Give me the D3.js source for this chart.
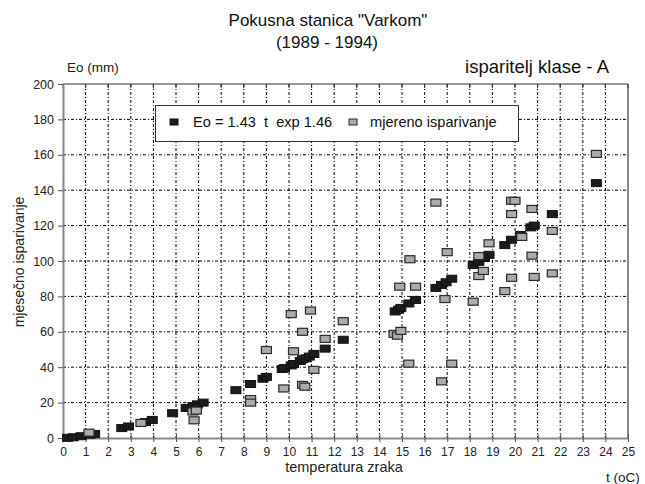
<!DOCTYPE html>
<html><head><meta charset="utf-8">
<script src="https://cdn.jsdelivr.net/npm/d3@7/dist/d3.min.js"></script>
<style>body{margin:0;background:#fff}svg{display:block;font-family:"Liberation Sans",Arial,sans-serif}</style>
</head><body><svg id="c" width="645" height="484"></svg>
<script>
const titleLines = ['Pokusna stanica "Varkom"', '(1989 - 1994)'];
const xTicks = d3.range(0, 26, 1);
const yTicks = [0, 20, 40, 60, 80, 100, 120, 140, 160, 180, 200];
const legendLabels = ['Eo = 1.43  t  exp 1.46', 'mjereno isparivanje'];
// computed Eo = 1.43 t^1.46 (black)
const calcT = [0.2,0.45,0.8,1.2,1.4,2.6,2.9,3.65,3.95,4.85,5.45,5.75,5.95,6.2,7.65,8.3,8.85,9.0,9.7,9.8,10.1,10.2,10.5,10.6,10.75,10.9,11.1,11.6,12.4,14.7,14.85,14.95,15.3,15.6,16.5,16.75,16.95,17.2,18.15,18.4,18.65,18.85,19.55,19.85,20.25,20.7,20.85,21.65,23.6];
const calcE = [0.1,0.4,1.0,1.9,2.3,5.6,6.5,9.0,10.2,14.0,17.0,18.0,19.0,20.0,27.0,30.5,33.5,34.5,39.0,39.5,41.0,41.8,43.5,44.5,45.0,46.0,47.5,50.5,55.5,71.5,72.5,73.5,76.0,78.0,84.8,86.5,88.0,90.0,97.7,99.5,101.7,103.5,109.0,112.0,114.7,119.0,120.0,126.5,144.0];
// measured evaporation (gray)
const measT = [1.15,3.45,5.75,5.9,5.8,8.3,8.3,9.0,9.77,10.1,10.2,10.6,10.6,10.7,10.95,11.1,11.6,12.4,14.65,14.8,14.95,14.9,15.6,15.35,15.3,16.5,16.75,16.9,17.0,17.2,18.15,18.4,18.4,18.6,18.85,19.55,19.85,19.85,20.0,19.85,20.3,20.75,20.75,20.85,21.65,21.65,23.6];
const measE = [3.0,8.5,15.0,15.5,10.0,22.0,20.0,49.7,28.0,70.0,49.0,60.0,30.0,29.0,72.0,38.5,56.0,66.0,58.8,57.8,60.5,85.5,85.5,101.0,42.0,133.0,32.0,78.5,105.0,42.0,77.0,102.8,91.5,94.4,110.0,83.0,90.5,134.0,134.0,126.5,113.6,129.4,103.0,91.0,117.0,93.0,160.5];

const svg = d3.select('#c');
const x = d3.scaleLinear().domain([0, 25]).range([63, 628]);
const y = d3.scaleLinear().domain([0, 200]).range([438, 84]);

// grid
const g = svg.append('g');
g.selectAll('.vg').data(xTicks.filter(d => d > 0 && d < 25)).join('line')
  .attr('x1', d => x(d)).attr('x2', d => x(d)).attr('y1', y(200)).attr('y2', y(0))
  .attr('stroke', '#000').attr('stroke-width', 1).attr('stroke-dasharray', '3,2,1,2');
g.selectAll('.hg').data(yTicks.filter(d => d > 0 && d < 200)).join('line')
  .attr('x1', x(0)).attr('x2', x(25)).attr('y1', d => y(d)).attr('y2', d => y(d))
  .attr('stroke', '#000').attr('stroke-width', 1).attr('stroke-dasharray', '3,2,1,2');

// frame
svg.append('line').attr('x1', x(0)).attr('x2', x(25)).attr('y1', y(200)).attr('y2', y(200)).attr('stroke', '#333').attr('stroke-width', 1);
svg.append('line').attr('x1', x(25)).attr('x2', x(25)).attr('y1', y(200)).attr('y2', y(0)).attr('stroke', '#888').attr('stroke-width', 2);
svg.selectAll('.tt').data(xTicks).join('line')
  .attr('x1', d => x(d)).attr('x2', d => x(d)).attr('y1', y(200)).attr('y2', y(200) + 4)
  .attr('stroke', '#333');

// axes
const xAxis = svg.append('g').attr('transform', `translate(0,${y(0)})`)
  .call(d3.axisBottom(x).tickValues(xTicks).tickFormat(d3.format('d')).tickSizeInner(4).tickSizeOuter(0).tickPadding(5));
xAxis.select('.domain').attr('stroke', '#888').attr('stroke-width', 2);
xAxis.selectAll('.tick line').attr('stroke', '#555').attr('y1', -4);
xAxis.selectAll('text').attr('font-size', 12).attr('fill', '#222').attr('font-family', '"Liberation Sans",Arial,sans-serif');

const yAxis = svg.append('g').attr('transform', `translate(${x(0)},0)`)
  .call(d3.axisLeft(y).tickValues(yTicks).tickSizeInner(5).tickSizeOuter(0).tickPadding(4));
yAxis.select('.domain').attr('stroke', '#888').attr('stroke-width', 2);
yAxis.selectAll('.tick line').attr('stroke', '#555');
yAxis.selectAll('text').attr('font-size', 12.5).attr('fill', '#222').attr('font-family', '"Liberation Sans",Arial,sans-serif');

// points
const mw = 10, mh = 7;
svg.append('g').selectAll('rect').data(calcT.map((t, i) => [t, calcE[i]])).join('rect')
  .attr('x', d => x(d[0]) - mw / 2).attr('y', d => y(d[1]) - mh / 2)
  .attr('width', mw).attr('height', mh)
  .attr('fill', '#1c1c1c').attr('stroke', '#111').attr('stroke-width', 1);
svg.append('g').selectAll('rect').data(measT.map((t, i) => [t, measE[i]])).join('rect')
  .attr('x', d => x(d[0]) - mw / 2).attr('y', d => y(d[1]) - mh / 2)
  .attr('width', mw).attr('height', mh)
  .attr('fill', '#ababab').attr('stroke', '#2a2a2a').attr('stroke-width', 1.2);

// legend
const lg = svg.append('g');
lg.append('rect').attr('x', 155.5).attr('y', 105.5).attr('width', 363).attr('height', 36)
  .attr('fill', '#fff').attr('stroke', '#333').attr('stroke-width', 1);
lg.append('rect').attr('x', 170).attr('y', 119).attr('width', 8).attr('height', 6).attr('fill', '#1c1c1c').attr('stroke', '#111');
lg.append('text').attr('x', 193).attr('y', 127).attr('font-size', 14.6).attr('fill', '#111').attr('xml:space', 'preserve').text(legendLabels[0]);
lg.append('rect').attr('x', 349).attr('y', 119).attr('width', 8).attr('height', 6).attr('fill', '#ababab').attr('stroke', '#2a2a2a');
lg.append('text').attr('x', 370).attr('y', 127).attr('font-size', 14.6).attr('fill', '#111').text(legendLabels[1]);

// texts
svg.append('text').attr('x', 328).attr('y', 26).attr('text-anchor', 'middle').attr('font-size', 17).attr('fill', '#111').text(titleLines[0]);
svg.append('text').attr('x', 327).attr('y', 48).attr('text-anchor', 'middle').attr('font-size', 17).attr('fill', '#111').text(titleLines[1]);
svg.append('text').attr('x', 609).attr('y', 73).attr('text-anchor', 'end').attr('font-size', 18.5).attr('fill', '#111').text('isparitelj klase - A');
svg.append('text').attr('x', 67).attr('y', 72).attr('font-size', 13.5).attr('fill', '#222').text('Eo (mm)');
svg.append('text').attr('transform', 'translate(24,262) rotate(-90)').attr('text-anchor', 'middle').attr('font-size', 14).attr('fill', '#222').text('mjesečno isparivanje');
svg.append('text').attr('x', 344).attr('y', 472).attr('text-anchor', 'middle').attr('font-size', 14.5).attr('fill', '#222').text('temperatura zraka');
svg.append('text').attr('x', 606).attr('y', 482).attr('font-size', 13.5).attr('fill', '#222').text('t (oC)');
</script></body></html>
